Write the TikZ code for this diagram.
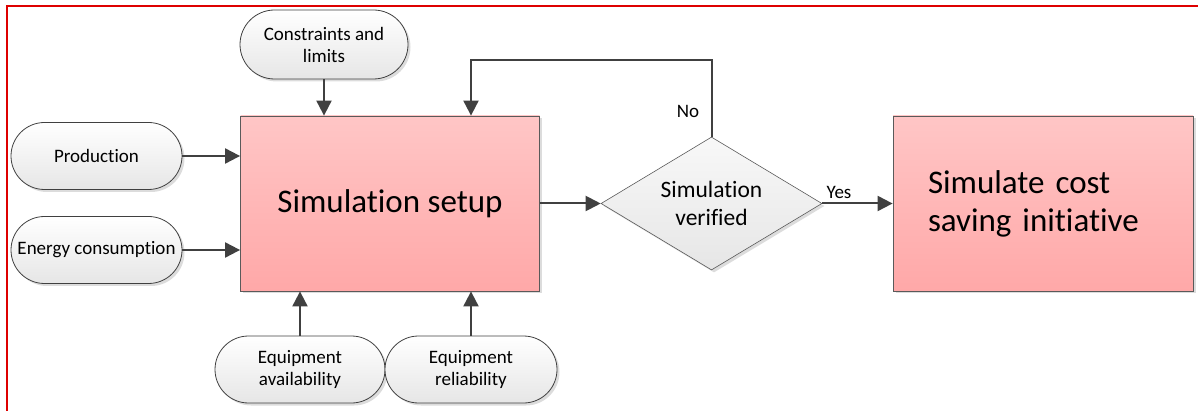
\documentclass[tikz,border=0pt]{standalone}
\usepackage{fontspec}
\setmainfont{Carlito}[Ligatures=NoCommon]
\usetikzlibrary{shapes.geometric,arrows.meta,shadows}

\definecolor{framered}{RGB}{222,0,0}
\definecolor{linegray}{RGB}{64,64,64}
\definecolor{edgegray}{RGB}{90,90,90}
\definecolor{pinktop}{RGB}{255,198,198}
\definecolor{pinkbot}{RGB}{255,168,168}
\definecolor{pillbot}{RGB}{230,230,230}
\definecolor{diatop}{RGB}{248,248,248}
\definecolor{diabot}{RGB}{230,230,230}

\tikzset{
  softshadow/.style={drop shadow={shadow xshift=2.5pt,shadow yshift=-2.5pt,fill=black!30,opacity=0.45}},
  pill/.style={draw=linegray,line width=0.8pt,top color=white,bottom color=pillbot,
    rounded corners=33.5pt,minimum width=171pt,minimum height=67pt,inner sep=2pt,
    align=center,font=\fontsize{19}{22}\selectfont,softshadow},
  process/.style={draw=edgegray,line width=0.8pt,top color=pinktop,bottom color=pinkbot,
    minimum width=299pt,minimum height=175pt,softshadow},
  decision/.style={diamond,draw=edgegray,line width=0.6pt,top color=diatop,bottom color=diabot,
    minimum width=221pt,minimum height=133pt,shape aspect=1.66,inner sep=0pt,
    align=center,font=\fontsize{23.5}{28}\selectfont,softshadow},
  arr/.style={draw=linegray,line width=2pt,-{Triangle[length=15pt,width=15pt]}},
  tag/.style={font=\fontsize{19}{22}\selectfont,inner sep=0pt}
}

\begin{document}
\begin{tikzpicture}[x=1pt,y=-1pt]
  \useasboundingbox (0,0) rectangle (1198,411);

  % frame, open to the right and bottom
  \draw[framered,line width=2pt] (7,411) -- (7,6) -- (1198,6);

  % main process boxes
  \node[process,font=\fontsize{33}{38}\selectfont] (setup) at (390,203.5) {Simulation setup};
  \node[process,font=\fontsize{33}{38}\selectfont,align=left,text width=230pt,inner xsep=35pt]
    (cost) at (1043,203.5) {Simulate cost\\saving initiative};

  % decision
  \node[decision] (dia) at (711.5,203.5) {Simulation\\verified};

  % inputs
  \node[pill,minimum width=168pt,minimum height=69pt,rounded corners=34.5pt] (cons) at (324,44.5) {Constraints and\\limits};
  \node[pill] (prod) at (96.5,156) {Production};
  \node[pill] (energy) at (96.5,250) {Energy consumption};
  \node[pill,minimum width=170pt] (avail) at (300,369.5) {Equipment\\availability};
  \node[pill,minimum width=172pt] (reli) at (471,369.5) {Equipment\\reliability};

  % connectors into the setup box
  \draw[arr] (cons.south) -- (setup.north -| cons.south);
  \draw[arr] (prod.east) -- (setup.west |- prod.east);
  \draw[arr] (energy.east) -- (setup.west |- energy.east);
  \draw[arr] (avail.north) -- (setup.south -| avail.north);
  \draw[arr] (reli.north) -- (setup.south -| reli.north);

  % main flow
  \draw[arr] (setup.east) -- (dia.west);
  \draw[arr] (dia.east) -- (cost.west);

  % feedback loop
  \coordinate (loopcorner) at (471,60);
  \draw[arr] (dia.north) |- (loopcorner) -- (setup.north -| loopcorner);

  \node[tag] (nolabel) at (688,111) {No};
  \node[tag] (yeslabel) at (839,192) {Yes};
\end{tikzpicture}
\end{document}
